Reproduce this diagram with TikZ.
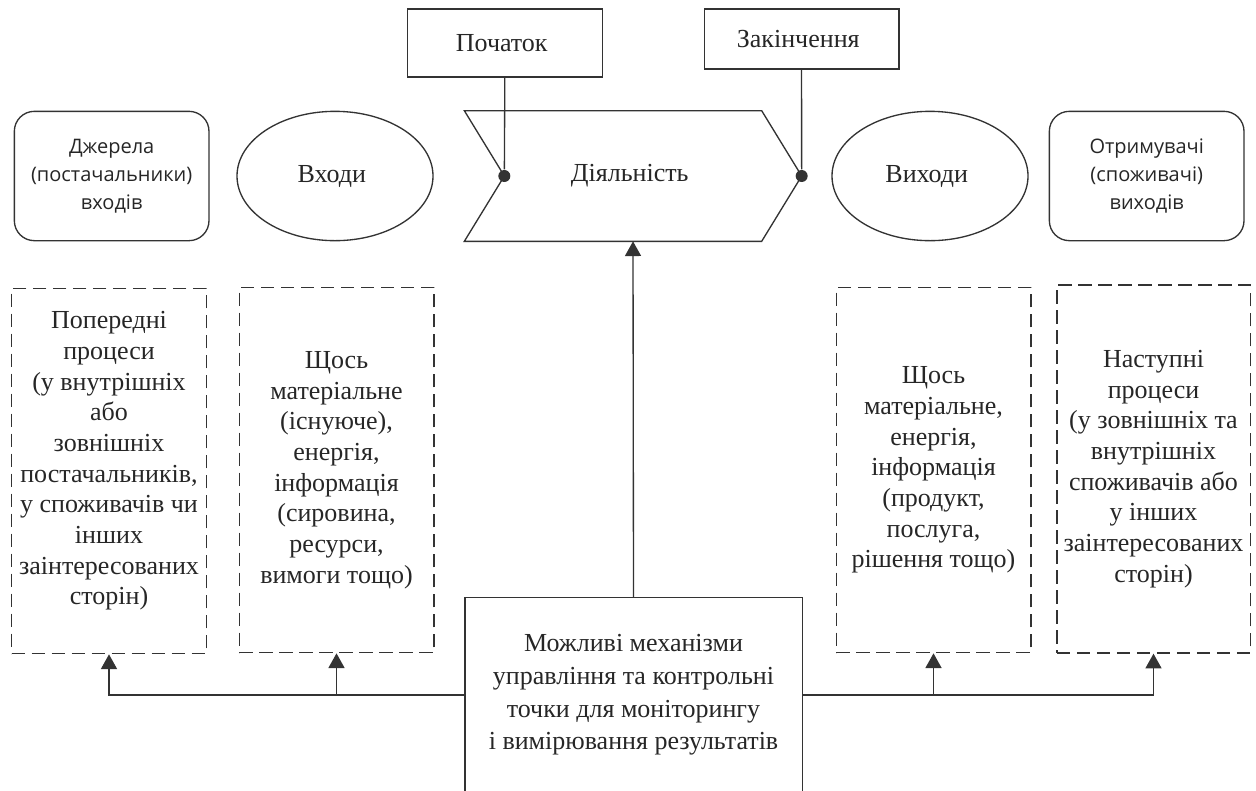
\documentclass[tikz,border=0pt]{standalone}
\usepackage{fontspec}
\setmainfont{Liberation Serif}
\setsansfont{Open Sans}
\usetikzlibrary{positioning, shapes.geometric, arrows.meta}

\begin{document}
\begin{tikzpicture}[x = 0.75pt, y = -0.75pt, line width = 1pt, black!80,
    every node/.style = { align = center, text = black!85, font = \fontsize{19.5}{23}\selectfont },
    sidebox/.style = { draw, rounded corners = 15pt, minimum width = 146pt, minimum height = 97pt, font = \sffamily\fontsize{15}{21}\selectfont },
    oval/.style = { draw, ellipse, minimum width = 147pt, minimum height = 97pt },
    tag/.style = { draw, minimum width = 146pt },
    dashbox/.style = { draw, dash pattern = on 10pt off 5pt, minimum width = 146pt, minimum height = 274pt },
    tip/.style = { -{Triangle[length = 11pt, width = 12pt]} },
    dot/.style = { circle, fill = black!80, inner sep = 0pt, minimum size = 9pt }]
    \useasboundingbox (0,0) rectangle (1256,790);

    \node (act) [minimum width = 252pt, minimum height = 97pt, inner sep = 0pt] at (633,176) { Діяльність };
     \draw (act.north west) -- ([xshift = -30pt]act.north east) -- (act.east) -- ([xshift = -30pt]act.south east)
      -- (act.south west) -- ([xshift = 30pt]act.west) -- cycle;
    \node (ldot) [dot] at ([xshift = 30pt]act.west) {};
    \node (rdot) [dot] at (act.east) {};

    \node (inp) [oval] at (335,176) { Входи };
    \node (src) [sidebox, left = 20pt of inp] { Джерела \\ (постачальники) \\ входів };
    \node (out) [oval] at (930,176) { Виходи };
    \node (rcv) [sidebox, right = 15pt of out] { Отримувачі \\ (споживачі) \\ виходів };

    \node (start) [tag, minimum height = 51pt] at (505,43) { Початок };
    \node (finish) [tag, minimum height = 45pt] at (801.5,39) { Закінчення };
    \draw (start) -- (ldot);
    \draw (finish) -- (rdot);

    \node (prev) [dashbox, text depth = 19pt] at (109,471) { Попередні \\ процеси \\ (у внутрішніх \\ або \\ зовнішніх \\ постачальників, \\ у споживачів чи \\ інших \\ заінтересованих \\ сторін) };
    \node (inwhat) [dashbox] at (336.5,470) { Щось \\ матеріальне \\ (існуюче), \\ енергія, \\ інформація \\ (сировина, \\ ресурси, \\ вимоги тощо) };
    \node (outwhat) [dashbox] at (933.5,470) { Щось \\ матеріальне, \\ енергія, \\ інформація \\ (продукт, \\ послуга, \\ рішення тощо) };
    \node (next) [dashbox, minimum width = 145pt, minimum height = 276pt] at (1153.5,469) { Наступні \\ процеси \\ (у зовнішніх та \\ внутрішніх \\ споживачів або \\ у інших \\ заінтересованих \\ сторін) };

    \node (ctrl) [draw, minimum width = 253pt, minimum height = 146pt, font = \fontsize{19.5}{24.5}\selectfont] at (633.5,695)
      { Можливі механізми \\ управління та контрольні \\ точки для моніторингу \\ і вимірювання результатів };

    \draw [tip] (ctrl.north) -- (act.south);
    \draw [tip] (ctrl.west) -| (prev.south);
    \draw [tip] (ctrl.west -| inwhat.south) -- (inwhat.south);
    \draw [tip] (ctrl.east) -| (next.south);
    \draw [tip] (ctrl.east -| outwhat.south) -- (outwhat.south);
\end{tikzpicture}
\end{document}
